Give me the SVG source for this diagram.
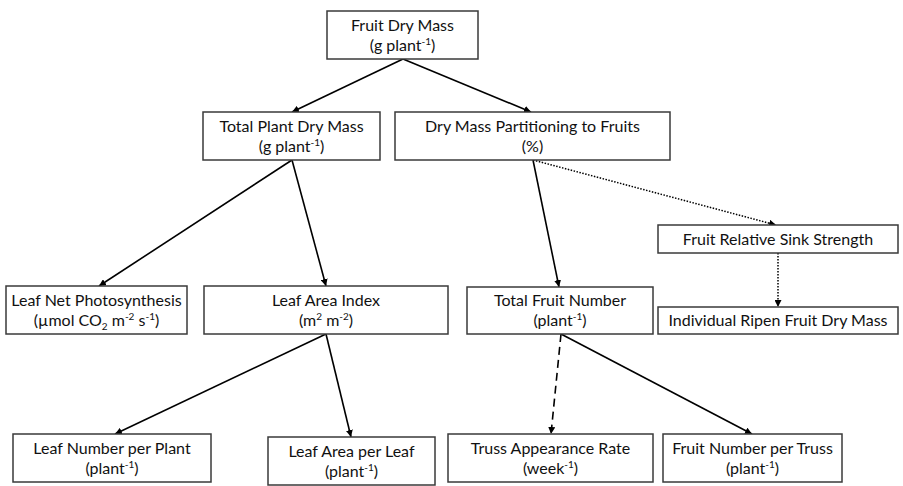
<svg xmlns="http://www.w3.org/2000/svg" width="903" height="486" viewBox="0 0 903 486">
<defs>
<marker id="ah" viewBox="0 0 10 10" refX="10" refY="5" markerWidth="7" markerHeight="7" markerUnits="userSpaceOnUse" orient="auto">
<path d="M0,0 L10,5 L0,10 z" fill="#000"/>
</marker>
<style>
rect{fill:#fff;stroke:#3a3a3a;stroke-width:1.5}
text{font-family:Lato,"Liberation Sans",sans-serif;font-size:16px;fill:#111;text-anchor:middle}
.s{font-size:10px}
.c line{stroke:#000;stroke-width:1.6;marker-end:url(#ah)}
.c .dot{stroke-dasharray:1.5 1.5;stroke-width:1.5}
.c .dash{stroke-dasharray:8 5}
</style>
</defs>
<rect x="0" y="0" width="903" height="486" style="fill:#fff;stroke:none"/>
<g class="c" id="connectors">
<line x1="403" y1="59" x2="292" y2="112"/>
<line x1="403" y1="59" x2="531" y2="112"/>
<line x1="292" y1="160" x2="99" y2="286"/>
<line x1="292" y1="160" x2="326" y2="286"/>
<line x1="533" y1="160" x2="559" y2="287"/>
<line class="dot" x1="533" y1="160" x2="776" y2="225"/>
<line class="dot" x1="778" y1="253" x2="778" y2="307"/>
<line x1="326" y1="334" x2="115" y2="434"/>
<line x1="326" y1="334" x2="351" y2="437"/>
<line class="dash" x1="561" y1="334" x2="551" y2="434"/>
<line x1="561" y1="334" x2="752" y2="434"/>
</g>
<g id="fruit-dry-mass"><rect x="327" y="11" width="151" height="48"/><text x="402.5" y="31">Fruit Dry Mass</text><text x="402.5" y="51">(g plant<tspan class="s" dy="-6">-1</tspan><tspan dy="6">)</tspan></text></g>
<g id="total-plant-dry-mass"><rect x="203" y="112" width="177" height="48"/><text x="291.5" y="132">Total Plant Dry Mass</text><text x="291.5" y="152">(g plant<tspan class="s" dy="-6">-1</tspan><tspan dy="6">)</tspan></text></g>
<g id="dry-mass-partitioning"><rect x="395" y="112" width="275" height="48"/><text x="532.5" y="132">Dry Mass Partitioning to Fruits</text><text x="532.5" y="152">(%)</text></g>
<g id="fruit-relative-sink-strength"><rect x="658" y="225" width="240" height="28"/><text x="778" y="244.5">Fruit Relative Sink Strength</text></g>
<g id="leaf-net-photosynthesis"><rect x="6" y="286" width="181" height="48"/><text x="96.5" y="306">Leaf Net Photosynthesis</text><text x="96.5" y="326">(µmol CO<tspan class="s" dy="4">2</tspan><tspan dy="-4"> m</tspan><tspan class="s" dy="-6">-2</tspan><tspan dy="6"> s</tspan><tspan class="s" dy="-6">-1</tspan><tspan dy="6">)</tspan></text></g>
<g id="leaf-area-index"><rect x="204" y="286" width="244" height="48"/><text x="326" y="306">Leaf Area Index</text><text x="326" y="326">(m<tspan class="s" dy="-6">2</tspan><tspan dy="6"> m</tspan><tspan class="s" dy="-6">-2</tspan><tspan dy="6">)</tspan></text></g>
<g id="total-fruit-number"><rect x="467" y="287" width="186" height="47"/><text x="560" y="306">Total Fruit Number</text><text x="560" y="326">(plant<tspan class="s" dy="-6">-1</tspan><tspan dy="6">)</tspan></text></g>
<g id="individual-ripen-fruit-dry-mass"><rect x="658" y="307" width="240" height="27"/><text x="778" y="326">Individual Ripen Fruit Dry Mass</text></g>
<g id="leaf-number-per-plant"><rect x="13" y="434" width="198" height="48"/><text x="112" y="454">Leaf Number per Plant</text><text x="112" y="474">(plant<tspan class="s" dy="-6">-1</tspan><tspan dy="6">)</tspan></text></g>
<g id="leaf-area-per-leaf"><rect x="268" y="437" width="167" height="48"/><text x="351.5" y="457">Leaf Area per Leaf</text><text x="351.5" y="477">(plant<tspan class="s" dy="-6">-1</tspan><tspan dy="6">)</tspan></text></g>
<g id="truss-appearance-rate"><rect x="448" y="434" width="205" height="48"/><text x="550.5" y="454">Truss Appearance Rate</text><text x="550.5" y="474">(week<tspan class="s" dy="-6">-1</tspan><tspan dy="6">)</tspan></text></g>
<g id="fruit-number-per-truss"><rect x="663" y="434" width="179" height="48"/><text x="752.5" y="454">Fruit Number per Truss</text><text x="752.5" y="474">(plant<tspan class="s" dy="-6">-1</tspan><tspan dy="6">)</tspan></text></g>
</svg>
